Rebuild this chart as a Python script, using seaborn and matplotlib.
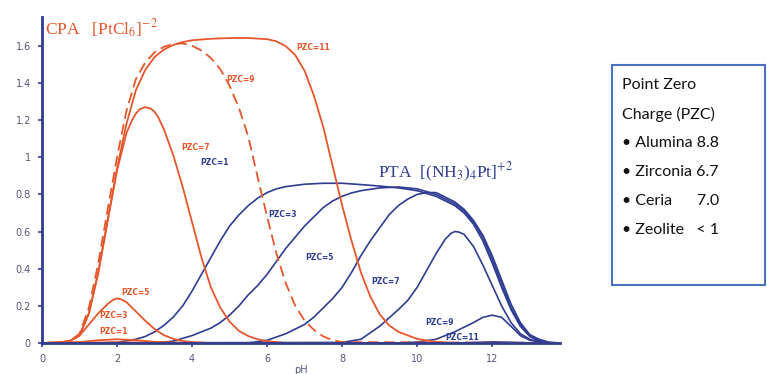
"""Pt uptake vs pH for CPA and PTA at several support PZC values"""

import matplotlib
matplotlib.use("Agg")
import matplotlib.pyplot as plt
import matplotlib.patches as mpatches
import seaborn as sns

RED = "#e5562c"
BLUE = "#2f3c92"
TICK_COLOR = "#55557a"

# CPA [PtCl6]-2 curves (pH, uptake)
cpa_pzc1_x = [0, 1, 2, 3, 4, 13.8]
cpa_pzc1_y = [0, 0.002, 0.004, 0.002, 0, 0]

cpa_pzc3_x = [0, 1, 1.5, 2, 2.5, 3, 4, 13.8]
cpa_pzc3_y = [0, 0.005, 0.015, 0.02, 0.015, 0.006, 0, 0]

cpa_pzc5_x = [0, 0.5, 0.75, 1.0, 1.25, 1.5, 1.75, 1.9, 2.0, 2.1, 2.25, 2.5, 2.75, 3.0, 3.25, 3.5,
              3.75, 4.0, 4.5, 13.8]
cpa_pzc5_y = [0, 0.003, 0.012, 0.04, 0.1, 0.16, 0.21, 0.233, 0.24, 0.236, 0.22, 0.17, 0.12, 0.075,
              0.042, 0.022, 0.011, 0.005, 0, 0]

cpa_pzc7_x = [0, 0.5, 0.75, 1.0, 1.25, 1.5, 1.75, 2.0, 2.25, 2.4, 2.5, 2.6, 2.75, 2.9, 3.0, 3.1,
              3.25, 3.5, 3.75, 4.0, 4.25, 4.5, 4.75, 5.0, 5.25, 5.5, 5.75, 6.0, 6.5, 13.8]
cpa_pzc7_y = [0, 0.003, 0.012, 0.04, 0.16, 0.38, 0.66, 0.93, 1.13, 1.2, 1.235, 1.258, 1.27, 1.262,
              1.245, 1.215, 1.15, 1.01, 0.84, 0.65, 0.46, 0.3, 0.19, 0.115, 0.065, 0.037, 0.02,
              0.01, 0, 0]

cpa_pzc9_x = [0, 0.5, 0.75, 1.0, 1.25, 1.5, 1.75, 2.0, 2.25, 2.5, 2.75, 3.0, 3.25, 3.5, 3.75, 4.0,
              4.25, 4.5, 4.75, 5.0, 5.25, 5.5, 5.75, 6.0, 6.25, 6.5, 6.75, 7.0, 7.25, 7.5, 7.75,
              8.0, 13.8]
cpa_pzc9_y = [0, 0.003, 0.012, 0.05, 0.19, 0.43, 0.72, 1.0, 1.25, 1.42, 1.51, 1.565, 1.595, 1.61,
              1.613, 1.6, 1.575, 1.535, 1.475, 1.385, 1.265, 1.11, 0.89, 0.68, 0.48, 0.32, 0.2,
              0.12, 0.07, 0.035, 0.015, 0.005, 0]

cpa_pzc11_x = [0, 0.5, 0.75, 1.0, 1.25, 1.5, 1.75, 2.0, 2.25, 2.5, 2.75, 3.0, 3.25, 3.5, 3.75,
               4.0, 4.5, 5.0, 5.5, 6.0, 6.25, 6.5, 6.75, 7.0, 7.25, 7.5, 7.75, 8.0, 8.25, 8.5,
               8.75, 9.0, 9.25, 9.5, 10.0, 10.5, 11.0, 13.8]
cpa_pzc11_y = [0, 0.003, 0.012, 0.04, 0.16, 0.38, 0.66, 0.94, 1.18, 1.36, 1.47, 1.54, 1.58, 1.605,
               1.62, 1.63, 1.638, 1.642, 1.642, 1.636, 1.624, 1.598, 1.55, 1.465, 1.33, 1.16, 0.95,
               0.74, 0.55, 0.38, 0.25, 0.155, 0.095, 0.06, 0.022, 0.006, 0, 0]

# PTA [(NH3)4Pt]+2 curves
pta_pzc1_x = [0, 1.5, 2.0, 2.5, 2.75, 3.0, 3.25, 3.5, 3.75, 4.0, 4.25, 4.5, 4.75, 5.0, 5.25, 5.5,
              5.75, 6.0, 6.25, 6.5, 7.0, 7.5, 8.0, 8.5, 9.0, 9.5, 10.0, 10.5, 11.0, 11.25, 11.5,
              11.75, 12.0, 12.25, 12.5, 12.75, 13.0, 13.25, 13.5, 13.8]
pta_pzc1_y = [0, 0, 0.003, 0.02, 0.035, 0.06, 0.095, 0.14, 0.2, 0.28, 0.37, 0.46, 0.55, 0.63, 0.69,
              0.74, 0.78, 0.81, 0.83, 0.842, 0.855, 0.86, 0.86, 0.853, 0.845, 0.835, 0.82, 0.79,
              0.74, 0.7, 0.64, 0.55, 0.43, 0.3, 0.18, 0.09, 0.035, 0.01, 0, 0]

pta_pzc3_x = [0, 3.0, 3.5, 4.0, 4.5, 4.75, 5.0, 5.25, 5.5, 5.75, 6.0, 6.25, 6.5, 6.75, 7.0, 7.25,
              7.5, 7.75, 8.0, 8.25, 8.5, 9.0, 9.5, 10.0, 10.5, 11.0, 11.25, 11.5, 11.75, 12.0,
              12.25, 12.5, 12.75, 13.0, 13.25, 13.5, 13.8]
pta_pzc3_y = [0, 0, 0.01, 0.04, 0.08, 0.11, 0.15, 0.2, 0.26, 0.31, 0.37, 0.44, 0.51, 0.57, 0.63,
              0.68, 0.73, 0.765, 0.79, 0.808, 0.82, 0.835, 0.84, 0.83, 0.8, 0.75, 0.71, 0.65, 0.57,
              0.45, 0.32, 0.19, 0.1, 0.04, 0.015, 0, 0]

pta_pzc5_x = [0, 5.5, 6.0, 6.5, 7.0, 7.25, 7.5, 7.75, 8.0, 8.25, 8.5, 8.75, 9.0, 9.25, 9.5, 9.75,
              10.0, 10.25, 10.5, 11.0, 11.25, 11.5, 11.75, 12.0, 12.25, 12.5, 12.75, 13.0, 13.25,
              13.5, 13.8]
pta_pzc5_y = [0, 0, 0.015, 0.05, 0.1, 0.14, 0.19, 0.24, 0.3, 0.38, 0.47, 0.55, 0.62, 0.69, 0.74,
              0.775, 0.8, 0.81, 0.81, 0.76, 0.72, 0.66, 0.58, 0.47, 0.34, 0.21, 0.11, 0.045, 0.02,
              0.005, 0]

pta_pzc7_x = [0, 8.0, 8.5, 9.0, 9.5, 9.75, 10.0, 10.25, 10.5, 10.75, 10.9, 11.0, 11.1, 11.25,
              11.5, 11.75, 12.0, 12.25, 12.5, 12.75, 13.0, 13.25, 13.5, 13.8]
pta_pzc7_y = [0, 0.003, 0.02, 0.09, 0.18, 0.23, 0.3, 0.39, 0.48, 0.56, 0.59, 0.6, 0.598, 0.585,
              0.52, 0.42, 0.31, 0.2, 0.11, 0.05, 0.02, 0.005, 0, 0]

pta_pzc9_x = [0, 9.5, 10.0, 10.5, 11.0, 11.5, 11.75, 12.0, 12.25, 12.5, 12.75, 13.0, 13.5, 13.8]
pta_pzc9_y = [0, 0, 0.005, 0.02, 0.06, 0.11, 0.138, 0.15, 0.138, 0.09, 0.04, 0.015, 0, 0]

pta_pzc11_x = [0, 11.0, 11.5, 12.0, 12.5, 13.0, 13.8]
pta_pzc11_y = [0, 0, 0.003, 0.006, 0.004, 0.001, 0]

# curve labels: (text, pH, uptake)
cpa_labels = [("PZC=11", 7.23, 1.59), ("PZC=9", 5.3, 1.42), ("PZC=7", 4.1, 1.05),
              ("PZC=5", 2.48, 0.27), ("PZC=3", 1.9, 0.15), ("PZC=1", 1.9, 0.06)]
pta_labels = [("PZC=1", 4.6, 0.97), ("PZC=3", 6.4, 0.69), ("PZC=5", 7.4, 0.46),
              ("PZC=7", 9.15, 0.33), ("PZC=9", 10.6, 0.11), ("PZC=11", 11.2, 0.03)]

x_ticks = [0, 2, 4, 6, 8, 10, 12]
y_ticks = [0, 0.2, 0.4, 0.6, 0.8, 1.0, 1.2, 1.4, 1.6]
y_tick_labels = ["0", "0.2", "0.4", "0.6", "0.8", "1", "1.2", "1.4", "1.6"]

box_lines = ["Point Zero", "Charge (PZC)", "\u2022 Alumina 8.8", "\u2022 Zirconia 6.7",
             "\u2022 Ceria      7.0", "\u2022 Zeolite   < 1"]

sns.set_style("white")
plt.rcParams["mathtext.fontset"] = "stix"

fig = plt.figure(figsize=(7.67, 3.74), dpi=100)
ax = fig.add_axes([0.0548, 0.0829, 0.675, 0.872])

pta_curves = [(pta_pzc1_x, pta_pzc1_y), (pta_pzc3_x, pta_pzc3_y), (pta_pzc5_x, pta_pzc5_y),
              (pta_pzc7_x, pta_pzc7_y), (pta_pzc9_x, pta_pzc9_y), (pta_pzc11_x, pta_pzc11_y)]
for xs, ys in pta_curves:
    sns.lineplot(x=xs, y=ys, ax=ax, color=BLUE, linewidth=1.2, estimator=None, sort=False)

cpa_curves = [(cpa_pzc1_x, cpa_pzc1_y, "-"), (cpa_pzc3_x, cpa_pzc3_y, "-"),
              (cpa_pzc5_x, cpa_pzc5_y, "-"), (cpa_pzc7_x, cpa_pzc7_y, "-"),
              (cpa_pzc9_x, cpa_pzc9_y, (0, (6, 3))), (cpa_pzc11_x, cpa_pzc11_y, "-")]
for xs, ys, ls in cpa_curves:
    sns.lineplot(x=xs, y=ys, ax=ax, color=RED, linewidth=1.3, linestyle=ls,
                 estimator=None, sort=False)

for text, px, py in cpa_labels:
    ax.text(px, py, text, color=RED, fontsize=5.5, fontweight="bold", ha="center", va="center")
for text, px, py in pta_labels:
    ax.text(px, py, text, color=BLUE, fontsize=5.5, fontweight="bold", ha="center", va="center")

ax.text(0.08, 1.69, r"CPA   [PtCl$_6$]$^{-2}$", color=RED, fontsize=12.5,
        family="Liberation Serif", va="center", ha="left")
ax.text(8.96, 0.92, r"PTA  [(NH$_3$)$_4$Pt]$^{+2}$", color=BLUE, fontsize=12.5,
        family="Liberation Serif", va="center", ha="left")

ax.set_xlim(0, 13.8)
ax.set_ylim(0, 1.756)
ax.set_xticks(x_ticks)
ax.set_yticks(y_ticks)
ax.set_yticklabels(y_tick_labels)
ax.tick_params(axis="both", length=3, width=1.2, color=BLUE, labelsize=7,
               labelcolor=TICK_COLOR, direction="out", left=True, bottom=True, pad=5)
ax.set_xlabel("pH", fontsize=7, color=TICK_COLOR, labelpad=1)
ax.set_ylabel("")
sns.despine(ax=ax)
for side in ["left", "bottom"]:
    ax.spines[side].set_color(BLUE)
    ax.spines[side].set_linewidth(2)
ax.set_facecolor("white")

# PZC note box on the right
box = mpatches.Rectangle((0.798, 0.238), 0.199, 0.588, transform=fig.transFigure,
                         fill=False, edgecolor="#4a72c0", linewidth=1.5)
fig.add_artist(box)
for i, line in enumerate(box_lines):
    fig.text(0.811, 0.772 - i * 0.0775, line, fontsize=11.5, family="Lato",
             color="#111111", va="center", ha="left")

fig.savefig("out.png", dpi=100, facecolor="white")
